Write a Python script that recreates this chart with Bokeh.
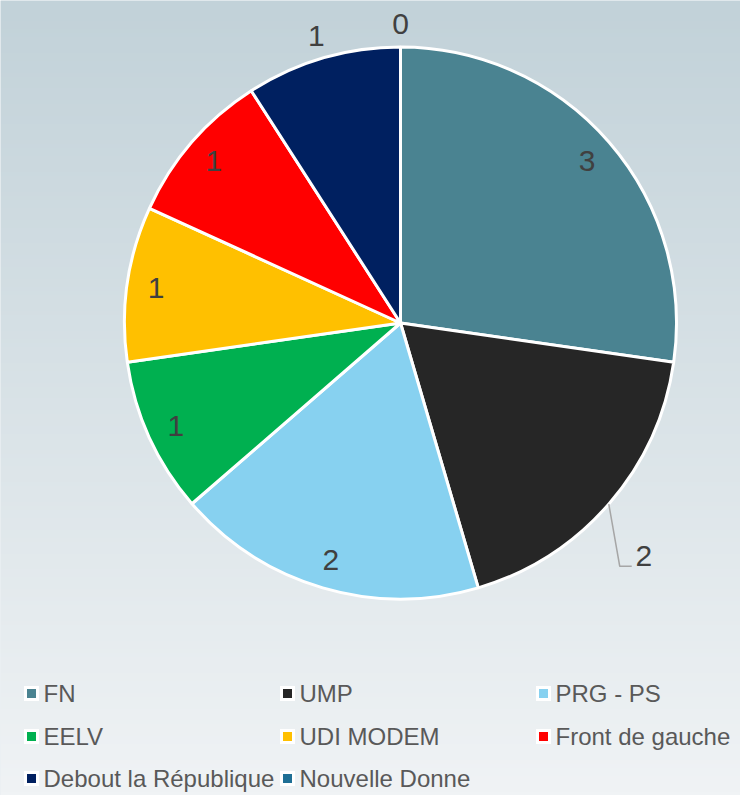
import numpy as np
from bokeh.plotting import figure
from bokeh.models import Range1d, ColumnDataSource
from bokeh.core.properties import value
from bokeh.embed import file_html
from bokeh.resources import INLINE

# ---- data ----
parties = ["FN", "UMP", "PRG - PS", "EELV", "UDI MODEM", "Front de gauche",
           "Debout la République", "Nouvelle Donne"]
seats = [3, 2, 2, 1, 1, 1, 1, 0]
colors = ["#4a8391", "#262626", "#87d1f0", "#00b050", "#ffc000", "#ff0000",
          "#002060", "#1f6f95"]

W, H = 740, 795
p = figure(width=W, height=H, x_range=Range1d(0, W), y_range=Range1d(0, H),
           output_backend="svg", toolbar_location=None, min_border=0)
p.axis.visible = False
p.grid.visible = False
p.outline_line_color = None
p.background_fill_color = "#d8e2e7"
p.border_fill_color = "#d8e2e7"

# background gradient
top = np.array([0xc2, 0xd2, 0xd9], dtype=float)
bot = np.array([0xf0, 0xf3, 0xf5], dtype=float)
n = 200
img = np.empty((n, 1), dtype=np.uint32)
view = img.view(dtype=np.uint8).reshape((n, 1, 4))
for i in range(n):
    t = i / (n - 1)  # row 0 = bottom
    c = bot * (1 - t) + top * t
    view[i, 0, 0] = int(c[0]); view[i, 0, 1] = int(c[1]); view[i, 0, 2] = int(c[2]); view[i, 0, 3] = 255
p.image_rgba(image=[img], x=0, y=0, dw=W, dh=H)

# ---- pie ----
cx, cy, R = 400, H - 322.5, 276
total = sum(seats)
cum = np.concatenate([[0], np.cumsum(seats)])
start = np.pi / 2 - cum[:-1] / total * 2 * np.pi
end = np.pi / 2 - cum[1:] / total * 2 * np.pi
mid = (start + end) / 2

nz = [i for i, s in enumerate(seats) if s > 0]
src = ColumnDataSource(dict(start=[start[i] for i in nz], end=[end[i] for i in nz],
                            color=[colors[i] for i in nz]))
p.wedge(x=cx, y=cy, radius=R, start_angle="start", end_angle="end",
        direction="clock", fill_color="color", line_color="white",
        line_width=3, source=src)

# ---- data labels ----
lx, ly = [], []
for i, s in enumerate(seats):
    if parties[i] == "UMP":
        a = np.pi / 2 - np.deg2rad(133.8)
        r = 337
    elif parties[i] in ("Debout la République", "Nouvelle Donne"):
        a = mid[i]
        r = 299
    else:
        a = mid[i]
        r = 247
    lx.append(cx + r * np.cos(a))
    ly.append(cy + r * np.sin(a))
p.text(x=lx, y=ly, text=[str(s) for s in seats], text_align="center",
       text_baseline="middle", text_font=value("Liberation Sans"),
       text_font_size="30px", text_color="#404040")

# leader line for UMP label
ui = parties.index("UMP")
ea = np.pi / 2 - np.deg2rad(131)
p.line(x=[cx + R * np.cos(ea), lx[ui] - 24, lx[ui] - 12],
       y=[cy + R * np.sin(ea), ly[ui] - 10, ly[ui] - 10],
       line_color="#a6a6a6", line_width=1.5)

# ---- legend ----
col_x = [31, 287, 543]
row_y = [693, 736, 778]
mx, my, tx, ty = [], [], [], []
for i, name in enumerate(parties):
    c, r = i % 3, i // 3
    mx.append(col_x[c]); my.append(H - row_y[r])
    tx.append(col_x[c] + 12); ty.append(H - row_y[r])
p.rect(x=mx, y=my, width=15, height=15, fill_color="white", line_color=None)
p.rect(x=mx, y=my, width=9, height=9, fill_color=colors, line_color=None)
p.text(x=tx, y=ty, text=parties, text_align="left", text_baseline="middle",
       text_font=value("Liberation Sans"), text_font_size="24px",
       text_color="#595959")

open("out.html", "w").write(file_html(p, INLINE))
